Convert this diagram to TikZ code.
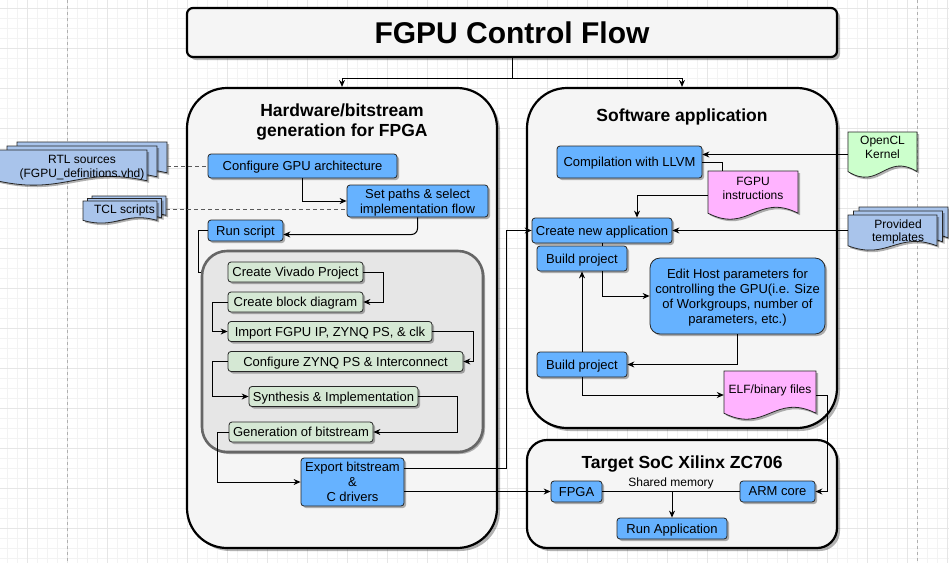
\documentclass[tikz,border=0pt]{standalone}
\usepackage{fontspec}
\setmainfont{Liberation Sans}
\usetikzlibrary{arrows.meta,shadows,calc}
\definecolor{bluebox}{HTML}{66B2FF}
\definecolor{greenbox}{HTML}{D5E8D4}
\definecolor{panelfill}{HTML}{F5F5F5}
\definecolor{innerfill}{HTML}{E6E6E6}
\definecolor{innerline}{HTML}{666666}
\definecolor{multidoc}{HTML}{A9C4EB}
\definecolor{kernelgreen}{HTML}{CCFFCC}
\definecolor{pinkdoc}{HTML}{FFB3FF}
\definecolor{gridminor}{HTML}{F3F3F3}
\definecolor{gridmajor}{HTML}{E6E6E6}
\definecolor{pageline}{HTML}{B0B0B0}
\newcommand{\docshape}[5]{%
  \path[docsty,fill=#5] ({#1},{#2}) -- ({#3},{#2}) -- ({#3},{(#4)-0.12*((#4)-(#2))})
    .. controls ({(#1)+0.55*((#3)-(#1))},{(#4)-0.55*((#4)-(#2))}) and ({(#1)+0.45*((#3)-(#1))},{(#4)+0.31*((#4)-(#2))}) .. ({#1},{(#4)-0.12*((#4)-(#2))}) -- cycle;}
\newcommand{\multidoc}[7]{%
  \docshape{(#1)+2*(#5)}{(#2)-2*(#6)}{(#3)+2*(#5)}{(#4)-2*(#6)}{#7}
  \docshape{(#1)+(#5)}{(#2)-(#6)}{(#3)+(#5)}{(#4)-(#6)}{#7}
  \docshape{#1}{#2}{#3}{#4}{#7}}
\begin{document}
\begin{tikzpicture}[x=1pt,y=-1pt,
  every node/.style={font=\fontsize{13}{15}\selectfont, align=center, inner sep=0pt, text=black, text depth=0pt},
  shad/.style={drop shadow={shadow xshift=2pt, shadow yshift=-2pt, opacity=0.3, fill=black}},
  bbox/.style={draw=black!85, line width=0.8pt, fill=bluebox, rounded corners=3pt, shad},
  gbox/.style={draw=black!85, line width=0.8pt, fill=greenbox, rounded corners=3pt, shad},
  panel/.style={draw=black, line width=2.2pt, fill=panelfill, drop shadow={shadow xshift=3pt, shadow yshift=-3pt, opacity=0.3, fill=black}},
  ptitle/.style={font=\bfseries\fontsize{17.5}{20}\selectfont},
  doctext/.style={font=\fontsize{12}{13.5}\selectfont},
  docsty/.style={draw=black!85, line width=0.8pt, shad},
  conn/.style={draw=black, line width=1pt, -{Stealth[length=7pt,width=6pt]}},
  plain/.style={draw=black, line width=1pt},
  dashconn/.style={draw=black!65, line width=1pt, dash pattern=on 4pt off 3pt},
]
\useasboundingbox (0,0) rectangle (949,563);
\fill[white] (0,0) rectangle (949,563);
% grid
\foreach \g in {7,17,...,947} \draw[gridminor, line width=0.5pt] (\g,0) -- (\g,563);
\foreach \g in {8,18,...,558} \draw[gridminor, line width=0.5pt] (0,\g) -- (949,\g);
\foreach \g in {27,67,...,947} \draw[gridmajor, line width=0.7pt] (\g,0) -- (\g,563);
\foreach \g in {8,48,...,558} \draw[gridmajor, line width=0.7pt] (0,\g) -- (949,\g);
\draw[pageline, line width=0.8pt, dash pattern=on 3pt off 3pt] (67,0) -- (67,563);
\draw[pageline, line width=0.8pt, dash pattern=on 3pt off 3pt] (917,0) -- (917,563);

% panels
\node[panel, rounded corners=6pt, minimum width=650pt, minimum height=49pt, font=\bfseries\fontsize{30}{33}\selectfont] (title) at (512,32.5) {FGPU Control Flow};
\node[panel, rounded corners=40pt, minimum width=310pt, minimum height=460pt] (hw) at (342,318) {};
\node[panel, rounded corners=40pt, minimum width=310pt, minimum height=340pt] (sw) at (682,258) {};
\node[panel, rounded corners=20pt, minimum width=310pt, minimum height=108pt] (tg) at (682,494) {};
\node[ptitle] (hwt) at (342,120) {Hardware/bitstream\\generation for FPGA};
\node[ptitle] (swt) at (682,115) {Software application};
\node[ptitle] (tgt) at (682,462) {Target SoC Xilinx ZC706};
\node[draw=innerline, line width=2.6pt, fill=innerfill, rounded corners=25pt, minimum width=281pt, minimum height=201pt, shad] (inner) at (342.5,351.5) {};

% document shapes
\multidoc{-3}{150}{147}{185}{10}{4}{multidoc}
\multidoc{83}{201}{157}{223}{4.5}{2.5}{multidoc}
\multidoc{848}{215}{937}{250}{5.5}{4}{multidoc}
\docshape{848}{132}{917}{177}{kernelgreen}
\docshape{708}{171}{798}{219}{pinkdoc}
\docshape{724}{371}{816}{419}{pinkdoc}

\node[minimum width=170pt, minimum height=43pt] (rtl) at (82,163.5) {};
\node[doctext] (rtltxt) at (82,166.5) {RTL sources\\(FGPU\_definitions.vhd)};
\node[doctext, minimum width=83pt, minimum height=27pt] (tcl) at (124.5,209.5) {TCL scripts};
\node[doctext, minimum width=100pt, minimum height=40pt] (tmpl) at (898,230.5) {Provided\\templates};
\node[minimum width=69pt, minimum height=45pt] (kernel) at (882.5,154.5) {};
\node[doctext] (kerneltxt) at (882.5,147.5) {OpenCL\\Kernel};
\node[minimum width=90pt, minimum height=48pt] (fgpu) at (753,195) {};
\node[doctext] (fgputxt) at (753,188.5) {FGPU\\instructions};
\node[minimum width=92pt, minimum height=48pt] (elf) at (770,395) {};
\node[doctext] (elftxt) at (770,389) {ELF/binary files};

% left panel nodes
\node[bbox, minimum width=189pt, minimum height=24pt] (cfg) at (302.5,166) {Configure GPU architecture};
\node[bbox, minimum width=141pt, minimum height=32pt] (setp) at (417.5,201) {Set paths \& select\\implementation flow};
\node[bbox, minimum width=75pt, minimum height=21pt] (run) at (245.5,230.5) {Run script};
\node[gbox, minimum width=135pt, minimum height=20pt] (cvp) at (295.5,272) {Create Vivado Project};
\node[gbox, minimum width=135pt, minimum height=20pt] (cbd) at (295.5,302) {Create block diagram};
\node[gbox, minimum width=204pt, minimum height=20pt] (imp) at (330,331.5) {Import FGPU IP, ZYNQ PS, \& clk};
\node[gbox, minimum width=235pt, minimum height=20pt] (czp) at (345.5,361.5) {Configure ZYNQ PS \& Interconnect};
\node[gbox, minimum width=169pt, minimum height=20pt] (syn) at (333.5,396.5) {Synthesis \& Implementation};
\node[gbox, minimum width=144pt, minimum height=20pt] (gen) at (301,432) {Generation of bitstream};
\node[bbox, minimum width=103pt, minimum height=48pt] (exp) at (352.5,482) {Export bitstream\\\&\\C drivers};

% right panel nodes
\node[bbox, minimum width=145pt, minimum height=32pt] (llvm) at (629.5,162) {Compilation with LLVM};
\node[bbox, minimum width=140pt, minimum height=25pt] (newapp) at (602,230.5) {Create new application};
\node[bbox, minimum width=90pt, minimum height=25pt] (bp1) at (582,258.5) {Build project};
\node[bbox, rounded corners=10pt, minimum width=175pt, minimum height=76pt] (edit) at (737.5,296) {Edit Host parameters for\\controlling the GPU(i.e. Size\\of Workgroups, number of\\parameters, etc.)};
\node[bbox, minimum width=90pt, minimum height=25pt] (bp2) at (582,364.5) {Build project};

% target nodes
\node[bbox, minimum width=51pt, minimum height=21pt] (fpga) at (576.5,491.5) {FPGA};
\node[bbox, minimum width=75pt, minimum height=21pt] (arm) at (777.5,491.5) {ARM core};
\node[bbox, minimum width=110pt, minimum height=21pt] (runapp) at (672,528.5) {Run Application};
\node[font=\fontsize{12}{14}\selectfont] (shm) at (671,482) {Shared memory};

% coordinates
\coordinate (split) at (512,78);
\coordinate (runturn) at (198,272);
\coordinate (genturn) at (217,432);
\coordinate (expturn) at (506,468);
\coordinate (elfturn) at (827,395);
\coordinate (fgpudrop) at (722,171);

% connectors
\draw[plain] (title.south) -- (split);
\draw[conn] (split) -| (hw.north);
\draw[conn] (split) -| (sw.north);

\draw[dashconn] (cfg.west -| rtl.east) -- (cfg.west);
\draw[dashconn] (tcl.east) -- (tcl.east -| setp.west);
\draw[conn] (cfg.south) |- (setp.west);
\draw[conn, rounded corners=6pt] (setp.south) |- ($(run.east)+(0,4)$);
\draw[plain] (run.west) -| (runturn) -- (runturn -| inner.west);
\draw[conn] (cvp.east) -- ++(20,0) |- (cbd.east);
\draw[conn] (cbd.west) -- ++(-15,0) |- (imp.west);
\draw[conn] (imp.east) -- ++(41,0) |- (czp.east);
\draw[conn] (czp.west) -- ++(-15,0) |- (syn.west);
\draw[conn] (syn.east) -- ++(39,0) |- (gen.east);
\draw[conn] (gen.west) -- (genturn) |- (exp.west);
\draw[conn] (exp.east |- expturn) -- (expturn) |- (newapp.west);
\draw[conn] (fpga.west -| exp.east) -- (fpga.west);

\draw[conn] (kernel.west) -- (kernel.west -| llvm.east);
\draw[plain] (llvm.east) -| (fgpudrop);
\draw[conn] (fgpu.west) -| ($(newapp.north)+(35,0)$);
\draw[conn] (newapp.east -| tmpl.west) -- (newapp.east);
\draw[plain] (newapp.south) -- (newapp.south |- bp1.north);
\draw[conn] ($(bp1.south)+(20,0)$) |- (edit.west);
\draw[conn] (edit.south) |- (bp2.east);
\draw[conn] (bp2.north) -- (bp1.south);
\draw[conn] (bp2.south) |- (elf.west);
\draw[conn] (elf.east) -- (elfturn) |- (arm.east);

\draw[plain] (fpga.east) -- (arm.west);
\draw[conn] (fpga.east -| runapp.north) -- (runapp.north);
\end{tikzpicture}
\end{document}
